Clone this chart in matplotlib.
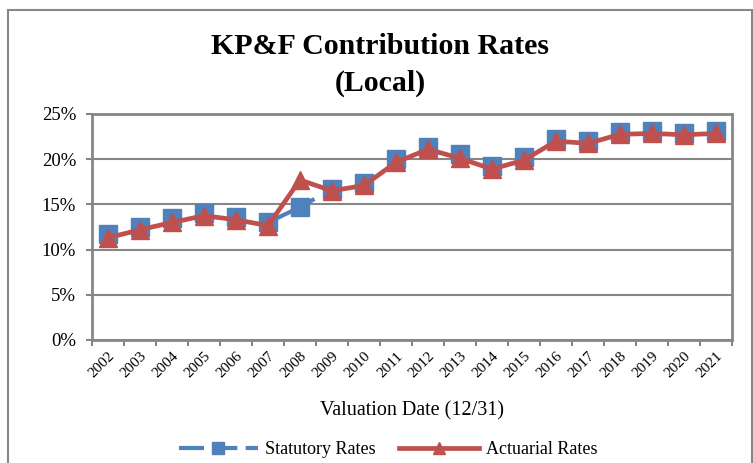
import numpy as np
import matplotlib
matplotlib.use("Agg")
import matplotlib.pyplot as plt
from matplotlib.lines import Line2D
from matplotlib.patches import Rectangle
from matplotlib.ticker import PercentFormatter

# data
years = ['2002', '2003', '2004', '2005', '2006', '2007', '2008', '2009', '2010', '2011',
         '2012', '2013', '2014', '2015', '2016', '2017', '2018', '2019', '2020', '2021']
statutory = [11.75, 12.5, 13.5, 14.0, 13.6, 13.0, 14.7, 16.7, 17.4, 20.0,
             21.4, 20.6, 19.3, 20.2, 22.2, 22.0, 23.0, 23.1, 22.9, 23.1]
actuarial = [11.3, 12.2, 13.0, 13.75, 13.3, 12.65, 17.7, 16.5, 17.1, 19.65,
             21.1, 20.1, 18.9, 19.9, 22.0, 21.75, 22.75, 22.85, 22.7, 22.85]

blue = '#4F81BD'
red = '#C0504D'
grey = '#868686'

plt.rcParams['font.family'] = ['Liberation Serif', 'DejaVu Serif']

W, H = 753, 463
fig = plt.figure(figsize=(W / 100, H / 100), dpi=100)
ax = fig.add_axes([92 / W, 1 - 340 / H, 640 / W, 226 / H])

x = np.arange(len(years))
stat = np.array(statutory) / 100
act = np.array(actuarial) / 100

# the statutory line only shows as a dash around 2007-2008, the rest sits behind the red line
ax.plot(x[5:8], stat[5:8], color=blue, lw=3, ls=(0, (12.5, 8)), zorder=3)
ax.plot(x, stat, ls='none', marker='s', ms=12.5, mec=blue, mfc=blue, zorder=3)
ax.plot(x, act, color=red, lw=3.4, marker='^', ms=13.5, mec=red, mfc=red, zorder=4)

ax.set_xlim(-0.5, len(years) - 0.5)
ax.set_ylim(0, 0.25)
ax.set_yticks(np.arange(0, 0.2501, 0.05))
ax.yaxis.set_major_formatter(PercentFormatter(1.0, decimals=0))
ax.tick_params(axis='y', labelsize=13.5, length=4.5, width=1.5, color=grey, pad=7)

ax.set_xticks(np.arange(-0.5, len(years), 1))
ax.set_xticklabels([])
ax.set_xticks(x, minor=True)
ax.set_xticklabels(years, minor=True, rotation=45, ha='right', rotation_mode='anchor')
ax.tick_params(axis='x', which='major', length=4.5, width=1.5, color=grey)
ax.tick_params(axis='x', which='minor', length=0, labelsize=11, pad=7)

ax.grid(axis='y', color=grey, lw=1.5)
ax.set_axisbelow(True)
for s in ax.spines.values():
    s.set_color(grey)
    s.set_linewidth(2)

fig.text(380 / W, 1 - 47 / H, 'KP&F Contribution Rates', ha='center', va='center',
         fontsize=21.5, fontweight='bold')
fig.text(380 / W, 1 - 83 / H, '(Local)', ha='center', va='center',
         fontsize=21.5, fontweight='bold')
fig.text(412 / W, 1 - 411 / H, 'Valuation Date (12/31)', ha='center', va='center', fontsize=14.5)

handles = [
    Line2D([], [], color=blue, lw=3, ls=(0, (6, 2)), marker='s', ms=9, mec=blue, mfc=blue),
    Line2D([], [], color=red, lw=3.4, marker='^', ms=9, mec=red, mfc=red),
]
fig.legend(handles, ['Statutory Rates', 'Actuarial Rates'], loc='center',
           bbox_to_anchor=(388 / W, 1 - 450 / H), ncol=2, frameon=False, fontsize=13,
           handlelength=4.4, columnspacing=1.3, handletextpad=0.4)

fig.patches.append(Rectangle((8 / W, -0.05), 744 / W, 1 - 10 / H + 0.05, transform=fig.transFigure,
                             fill=False, edgecolor=grey, lw=1.5, zorder=0))

fig.savefig('out.png', dpi=100)
